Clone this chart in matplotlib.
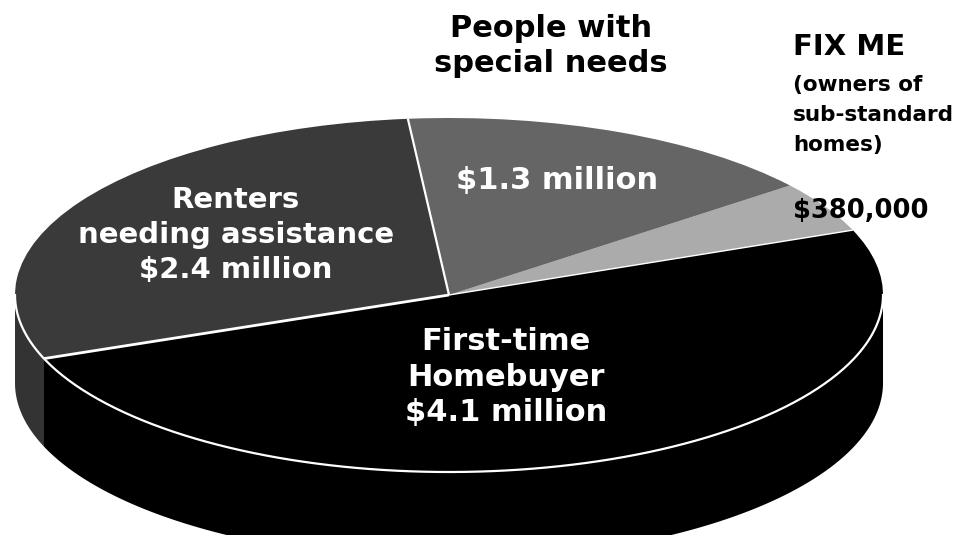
import numpy as np
import matplotlib
matplotlib.use("Agg")
from matplotlib import pyplot as plt
from matplotlib.patches import Wedge, Polygon
from matplotlib.transforms import Affine2D

##############################################################################################
##                          data (HOME program budget)
##############################################################################################
names = ["FIX ME", "People with special needs", "Renters needing assistance", "First-time Homebuyer"]
values = [0.38, 1.3, 2.4, 4.1]          # $ million
money = ["$380,000", "$1.3 million", "$2.4 million", "$4.1 million"]
topColors = ["#ababab", "#656565", "#3a3a3a", "#000000"]
sideColors = ["#a0a0a0", "#5c5c5c", "#333333", "#000000"]

##############################################################################################
##                          geometry of the tilted pie (pixels)
##############################################################################################
W, H = 969, 535
cx, cy = 449, 295
a, b = 434, 177
depth = 88
start = 21.5

fig = plt.figure(figsize=(W / 100, H / 100), dpi=100)
ax = fig.add_axes([0, 0, 1, 1])
ax.set_xlim(0, W)
ax.set_ylim(H, 0)
ax.axis("off")

frac = np.array(values) / np.sum(values)
edges = start + 360 * np.concatenate(([0], np.cumsum(frac)))

def pt(t, dz=0):
    t = np.radians(t)
    return cx + a * np.cos(t), cy - b * np.sin(t) + dz

# side walls, only the front half (180..360 deg) is visible
for i in range(len(values)):
    t1, t2 = edges[i], edges[i + 1]
    for k in (-1, 0, 1):
        lo, hi = max(t1, 180 + 360 * k), min(t2, 360 + 360 * k)
        if hi <= lo:
            continue
        tt = np.linspace(lo, hi, 200)
        xt, yt = pt(tt)
        xb, yb = pt(tt[::-1], depth)
        poly = Polygon(np.column_stack([np.r_[xt, xb], np.r_[yt, yb]]),
                       closed=True, fc=sideColors[i], ec="none")
        ax.add_patch(poly)

# top face as wedges of a unit circle squashed into the ellipse
tr = Affine2D().scale(a, -b).translate(cx, cy) + ax.transData
for i in range(len(values)):
    w = Wedge((0, 0), 1, edges[i], edges[i + 1], fc=topColors[i], ec="none", transform=tr)
    ax.add_patch(w)

# white dividers and the front rim
for t, lw in [(edges[0], 1.0), (edges[2], 1.6), (edges[3], 2.0)]:
    x1, y1 = pt(t)
    ax.plot([cx, x1], [cy, y1], color="white", lw=lw, solid_capstyle="butt")
tt = np.linspace(180, 360, 300)
xr, yr = pt(tt)
ax.plot(xr, yr, color="white", lw=1.6)

##############################################################################################
##                          labels
##############################################################################################
font = "DejaVu Sans"
ax.text(551, 46, "People with\nspecial needs", ha="center", va="center", fontsize=22,
        fontweight="bold", family=font, linespacing=1.3, color="black")
ax.text(793, 47, "FIX ME", ha="left", va="center", fontsize=21, fontweight="bold",
        family=font, color="black")
ax.text(793, 115, "(owners of\nsub-standard\nhomes)", ha="left", va="center", fontsize=15.5,
        fontweight="bold", family=font, linespacing=1.6, color="black")
ax.text(793, 211, money[0], ha="left", va="center", fontsize=18.5, fontweight="bold",
        family=font, color="black")

ax.text(557, 181, money[1], ha="center", va="center", fontsize=22, fontweight="bold",
        family=font, color="white")
ax.text(236, 235, "Renters\nneeding assistance\n" + money[2], ha="center", va="center",
        fontsize=21, fontweight="bold", family=font, linespacing=1.3, color="white")
ax.text(506, 377, "First-time\nHomebuyer\n" + money[3], ha="center", va="center",
        fontsize=22, fontweight="bold", family=font, linespacing=1.27, color="white")

fig.savefig("out.png", dpi=100)
